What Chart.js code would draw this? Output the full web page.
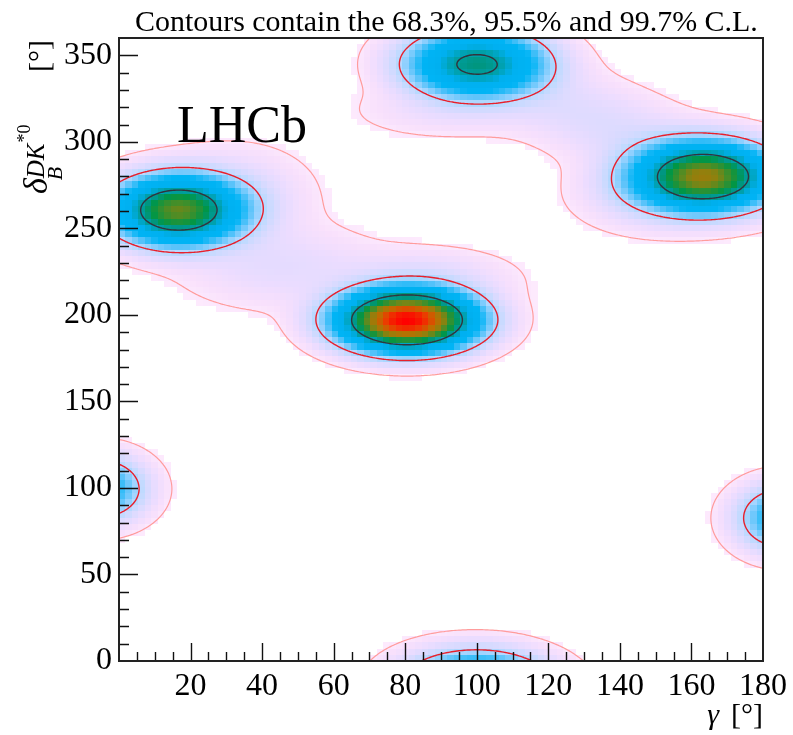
<!DOCTYPE html>
<html>
<head>
<meta charset="utf-8">
<script src="https://cdn.jsdelivr.net/npm/chart.js@4.4.0/dist/chart.umd.min.js"></script>
<style>
  html, body { margin: 0; padding: 0; background: #fff; }
</style>
</head>
<body>
<canvas id="scan" width="793" height="735"></canvas>
<script>
// axis ranges (degrees) and labelled ticks
var gammaRange = [0, 180];
var deltaRange = [0, 360];
var gammaLabels = [20, 40, 60, 80, 100, 120, 140, 160, 180];
var deltaLabels = [0, 50, 100, 150, 200, 250, 300, 350];
var nBinsGamma = 100;
var nBinsDelta = 100;

// likelihood islands: position, width, height (rel. to best fit)
var peakGamma  = [80.5, 16.5, 163.5, 100.0, -5.8, 186.0];
var peakDelta  = [197.0, 260.5, 280.0, 344.8, 99.5, 82.6];
var peakSigmaG = [10.2, 9.9, 10.6, 10.6, 7.2, 7.2];
var peakSigmaD = [9.4, 10.8, 10.7, 10.6, 10.4, 10.6];
var peakHeight = [1.0, 0.55, 0.62, 0.36, 0.16, 0.16];
var peakRho    = [0, 0, 0, 0, 0, 0];

// low tails that join the islands inside the 99.7% region
var tailGamma  = [32, 45, 85, 92, 136.5, 150];
var tailDelta  = [268, 228, 220, 318, 309.7, 270];
var tailSigmaG = [12, 16, 14, 15, 22.7, 12];
var tailSigmaD = [16, 14, 10, 9, 22.7, 12];
var tailHeight = [0.02, 0.015, 0.02, 0.01, 0.02, 0.025];
var tailRho    = [0, 0, 0, 0, -0.744, 0];

// L/Lmax on the 68.3%, 95.5%, 99.7% contours
var clNames = ['68.3%', '95.5%', '99.7%'];
var clRatio = [0.317, 0.0455, 0.0027];

var clColors = ['#33333d', '#e8202c', '#ff9c9c'];
var clWidths = [1.4, 1.4, 1.2];

var whiteCut = 0.0018;
var paletteStops = [0.0018, 0.005, 0.012, 0.025, 0.04, 0.055, 0.085, 0.13, 0.22, 0.3, 0.36, 0.42, 0.52, 0.6, 0.72, 0.85, 1.0];
var paletteColors = [[253,234,253],[248,224,252],[235,220,255],[215,218,255],[190,218,255],[160,212,255],
                     [90,195,250],[0,180,245],[0,176,240],[0,160,170],[0,150,130],[0,150,70],
                     [70,142,40],[140,130,15],[190,110,0],[235,60,0],[255,0,0]];

var serif = '"Liberation Serif", "Times New Roman", serif';

function gaussTerm(A, g0, d0, sg, sd, rho, g, d) {
    var u = (g - g0) / sg;
    var s = 0;
    for (var k = -1; k <= 1; k++) {
        var v = (d + 360 * k - d0) / sd;
        var q = (u * u - 2 * rho * u * v + v * v) / (1 - rho * rho);
        s += Math.exp(-0.5 * q);
    }
    return A * s;
}

function likelihood(g, d) {
    var s = 0, i;
    for (i = 0; i < peakGamma.length; i++)
        s += gaussTerm(peakHeight[i], peakGamma[i], peakDelta[i], peakSigmaG[i], peakSigmaD[i], peakRho[i], g, d);
    for (i = 0; i < tailGamma.length; i++)
        s += gaussTerm(tailHeight[i], tailGamma[i], tailDelta[i], tailSigmaG[i], tailSigmaD[i], tailRho[i], g, d);
    return s;
}

function colourFor(v) {
    if (v >= paletteStops[paletteStops.length - 1]) return 'rgb(255,0,0)';
    for (var i = 0; i < paletteStops.length - 1; i++) {
        if (v < paletteStops[i + 1]) {
            var t = (v - paletteStops[i]) / (paletteStops[i + 1] - paletteStops[i]);
            var a = paletteColors[i], b = paletteColors[i + 1];
            return 'rgb(' + Math.round(a[0] + (b[0] - a[0]) * t) + ',' + Math.round(a[1] + (b[1] - a[1]) * t) + ',' + Math.round(a[2] + (b[2] - a[2]) * t) + ')';
        }
    }
}

// histogram bins
var dG = (gammaRange[1] - gammaRange[0]) / nBinsGamma;
var dD = (deltaRange[1] - deltaRange[0]) / nBinsDelta;
var binValues = [];
for (var j = 0; j < nBinsDelta; j++) {
    var row = [];
    for (var i = 0; i < nBinsGamma; i++)
        row.push(likelihood(gammaRange[0] + (i + 0.5) * dG, deltaRange[0] + (j + 0.5) * dD));
    binValues.push(row);
}

// finer sampling for the contour lines
var cNx = 360, cNy = 360;
var cdG = (gammaRange[1] - gammaRange[0]) / cNx;
var cdD = (deltaRange[1] - deltaRange[0]) / cNy;
var fine = [];
for (var j = 0; j <= cNy; j++) {
    var r = [];
    for (var i = 0; i <= cNx; i++) r.push(likelihood(gammaRange[0] + i * cdG, deltaRange[0] + j * cdD));
    fine.push(r);
}

var segTable = {1: [[3,0]], 2: [[0,1]], 3: [[3,1]], 4: [[1,2]], 5: [[3,2],[0,1]], 6: [[0,2]], 7: [[3,2]],
                8: [[2,3]], 9: [[0,2]], 10: [[0,3],[1,2]], 11: [[1,2]], 12: [[1,3]], 13: [[0,1]], 14: [[3,0]]};

function contourSegments(level) {
    var segs = [];
    for (var j = 0; j < cNy; j++) {
        for (var i = 0; i < cNx; i++) {
            var v0 = fine[j][i], v1 = fine[j][i + 1], v2 = fine[j + 1][i + 1], v3 = fine[j + 1][i];
            var idx = (v0 > level ? 1 : 0) | (v1 > level ? 2 : 0) | (v2 > level ? 4 : 0) | (v3 > level ? 8 : 0);
            if (idx === 0 || idx === 15) continue;
            var edge = function(e) {
                var t;
                if (e === 0) { t = (level - v0) / (v1 - v0); return [i + t, j]; }
                if (e === 1) { t = (level - v1) / (v2 - v1); return [i + 1, j + t]; }
                if (e === 2) { t = (level - v3) / (v2 - v3); return [i + t, j + 1]; }
                t = (level - v0) / (v3 - v0); return [i, j + t];
            };
            segTable[idx].forEach(function(p) {
                var a = edge(p[0]), b = edge(p[1]);
                segs.push([gammaRange[0] + a[0] * cdG, deltaRange[0] + a[1] * cdD,
                           gammaRange[0] + b[0] * cdG, deltaRange[0] + b[1] * cdD]);
            });
        }
    }
    return segs;
}
var clSegments = clRatio.map(contourSegments);

var mapPlugin = {
    id: 'likelihoodMap',
    beforeDatasetsDraw: function(chart) {
        var ctx = chart.ctx, xs = chart.scales.x, ys = chart.scales.y, area = chart.chartArea;
        ctx.save();
        ctx.beginPath();
        ctx.rect(area.left, area.top, area.right - area.left, area.bottom - area.top);
        ctx.clip();
        for (var j = 0; j < nBinsDelta; j++) {
            var y0 = Math.round(ys.getPixelForValue(deltaRange[0] + (j + 1) * dD));
            var y1 = Math.round(ys.getPixelForValue(deltaRange[0] + j * dD));
            for (var i = 0; i < nBinsGamma; i++) {
                var v = binValues[j][i];
                if (v < whiteCut) continue;
                var x0 = Math.round(xs.getPixelForValue(gammaRange[0] + i * dG));
                var x1 = Math.round(xs.getPixelForValue(gammaRange[0] + (i + 1) * dG));
                ctx.fillStyle = colourFor(v);
                ctx.fillRect(x0, y0, x1 - x0, y1 - y0);
            }
        }
        ctx.lineCap = 'round';
        ctx.lineJoin = 'round';
        for (var k = clSegments.length - 1; k >= 0; k--) {
            ctx.strokeStyle = clColors[k];
            ctx.lineWidth = clWidths[k];
            ctx.beginPath();
            clSegments[k].forEach(function(s) {
                ctx.moveTo(xs.getPixelForValue(s[0]), ys.getPixelForValue(s[1]));
                ctx.lineTo(xs.getPixelForValue(s[2]), ys.getPixelForValue(s[3]));
            });
            ctx.stroke();
        }
        ctx.restore();
    },
    afterDraw: function(chart) {
        var ctx = chart.ctx, xs = chart.scales.x, ys = chart.scales.y, a = chart.chartArea;
        ctx.save();
        // inner tick marks
        ctx.strokeStyle = '#111';
        ctx.lineWidth = 1.4;
        ctx.beginPath();
        for (var g = gammaRange[0] + 5; g < gammaRange[1]; g += 5) {
            var px = Math.round(xs.getPixelForValue(g)) + 0.5;
            var len = (g % 20 === 0) ? 18 : 9;
            ctx.moveTo(px, a.bottom); ctx.lineTo(px, a.bottom - len);
        }
        for (var d = deltaRange[0] + 10; d < deltaRange[1]; d += 10) {
            var py = Math.round(ys.getPixelForValue(d)) + 0.5;
            var l2 = (d % 50 === 0) ? 19 : 10;
            ctx.moveTo(a.left, py); ctx.lineTo(a.left + l2, py);
        }
        ctx.stroke();
        // frame
        ctx.lineWidth = 2;
        ctx.strokeStyle = '#222';
        ctx.strokeRect(a.left, a.top, a.right - a.left, a.bottom - a.top);

        ctx.fillStyle = '#000';
        ctx.textBaseline = 'alphabetic';
        // title
        var title = 'Contours contain the ' + clNames[0] + ', ' + clNames[1] + ' and ' + clNames[2] + ' C.L.';
        ctx.font = '30px ' + serif;
        var tw = ctx.measureText(title).width;
        var fs = 30 * 623 / tw;
        ctx.font = fs.toFixed(2) + 'px ' + serif;
        ctx.textAlign = 'left';
        ctx.fillText(title, 135, 31);
        // experiment label
        ctx.font = '52px ' + serif;
        ctx.fillText('LHCb', 177, 142);
        // x title
        ctx.font = '30px ' + serif;
        ctx.textAlign = 'right';
        ctx.fillText('[\u00B0]', a.right, 724);
        var bw = ctx.measureText('[\u00B0]').width;
        ctx.font = 'italic 30px ' + serif;
        ctx.fillText('\u03B3', a.right - bw - 12, 724);
        // y title, rotated
        ctx.save();
        ctx.rotate(-Math.PI / 2);
        var x0 = -194;
        ctx.textAlign = 'left';
        ctx.font = 'italic 34px ' + serif;
        ctx.fillText('\u03B4', x0, 47);
        var w = ctx.measureText('\u03B4').width;
        ctx.font = 'italic 22px ' + serif;
        ctx.fillText('B', x0 + w - 2, 62);
        ctx.font = 'italic 25px ' + serif;
        ctx.fillText('DK', x0 + w, 44);
        var w2 = ctx.measureText('DK').width;
        ctx.font = '18px ' + serif;
        ctx.fillText('*0', x0 + w + w2 + 1, 30);
        ctx.font = '30px ' + serif;
        ctx.textAlign = 'right';
        ctx.fillText('[\u00B0]', -40, 49);
        ctx.restore();
        ctx.restore();
    }
};

new Chart(document.getElementById('scan'), {
    type: 'scatter',
    data: { datasets: [] },
    options: {
        responsive: false,
        animation: false,
        devicePixelRatio: 1,
        layout: { padding: { top: 38, right: 29, left: 0, bottom: 0 } },
        plugins: { legend: { display: false }, tooltip: { enabled: false }, title: { display: false } },
        scales: {
            x: {
                type: 'linear', min: gammaRange[0], max: gammaRange[1],
                grid: { display: false, drawTicks: false },
                border: { display: false },
                afterBuildTicks: function(s) { s.ticks = gammaLabels.map(function(v) { return { value: v }; }); },
                afterFit: function(s) { s.height = 74; },
                ticks: { autoSkip: false, maxRotation: 0, padding: 6, color: '#000',
                         font: { family: serif, size: 32 } }
            },
            y: {
                type: 'linear', min: deltaRange[0], max: deltaRange[1],
                grid: { display: false, drawTicks: false },
                border: { display: false },
                afterBuildTicks: function(s) { s.ticks = deltaLabels.map(function(v) { return { value: v }; }); },
                afterFit: function(s) { s.width = 119; },
                ticks: { autoSkip: false, padding: 7, color: '#000',
                         font: { family: serif, size: 32 } }
            }
        }
    },
    plugins: [mapPlugin]
});
</script>
</body>
</html>
